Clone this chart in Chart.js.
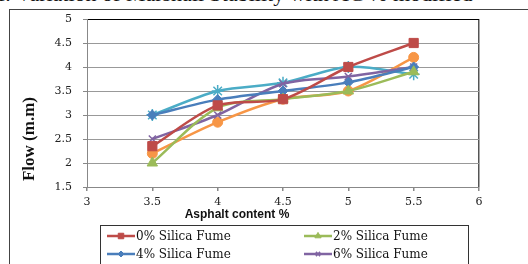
<!DOCTYPE html>
<html>
<head>
<meta charset="utf-8">
<script src="https://cdn.jsdelivr.net/npm/chart.js"></script>
<style>
  body { margin: 0; background: #fff; }
  #wrap { position: relative; width: 528px; height: 264px; overflow: hidden; }
  #fig { position: absolute; left: -2px; top: -17px; white-space: nowrap;
         font: 22px "Liberation Serif", serif; color: #111; line-height: 22px; }
  #frame { position: absolute; left: 9px; top: 9px; width: 540px; height: 300px;
           border-left: 1px solid #444; border-top: 1px solid #444; }
  canvas { position: absolute; left: 0; top: 0; }
</style>
</head>
<body>
<div id="wrap">
  <div id="fig">f. Variation of Marshall Stability with AC % modified</div>
  <div id="frame"></div>
  <canvas id="chart" width="528" height="264"></canvas>
</div>
<script>
const asphalt = [3.5, 4, 4.5, 5, 5.5];
const seriesNames = ["0% Silica Fume", "2% Silica Fume", "4% Silica Fume", "6% Silica Fume", "8% Silica Fume", "10% Silica Fume"];
const sf0 = [2.35, 3.2, 3.33, 4.0, 4.5];
const sf2 = [2.0, 3.15, 3.33, 3.5, 3.9];
const sf4 = [3.0, 3.32, 3.5, 3.68, 4.0];
const sf6 = [2.5, 3.0, 3.65, 3.8, 4.0];
const sf8 = [3.0, 3.5, 3.67, 4.0, 3.85];
const sf10 = [2.2, 2.85, 3.33, 3.5, 4.2];
const xTicks = [3, 3.5, 4, 4.5, 5, 5.5, 6];

const colors = ["#BE4B48", "#9BBB59", "#4A7EBB", "#8064A2", "#4BACC6", "#F79646"];
const markers = ["rect", "triangle", "rectRot", "crossRot", "star", "circle"];
const radii = [6.5, 6, 5, 5, 6, 5];

const values = [sf0, sf2, sf4, sf6, sf8, sf10];
const datasets = values.map((vals, i) => ({
  label: seriesNames[i],
  data: vals.map((v, j) => ({ x: asphalt[j], y: v })),
  borderColor: colors[i],
  backgroundColor: colors[i],
  pointBackgroundColor: colors[i],
  pointBorderColor: colors[i],
  pointBorderWidth: (markers[i] === "crossRot" || markers[i] === "star") ? 1.5 : 1,
  pointStyle: markers[i],
  pointRadius: radii[i],
  borderWidth: 2.5,
  tension: 0.3,
  fill: false
}));

// titles and legend box drawn on top
const extras = {
  id: "extras",
  afterDraw(chart) {
    const ctx = chart.ctx;
    ctx.save();
    ctx.fillStyle = "#111";
    ctx.font = "bold 12px 'Liberation Sans', Arial, sans-serif";
    ctx.textAlign = "center";
    ctx.textBaseline = "middle";
    ctx.fillText("Asphalt content %", 237, 215);

    ctx.save();
    ctx.translate(30, 139);
    ctx.rotate(-Math.PI / 2);
    ctx.font = "bold 17px 'Liberation Serif', 'Times New Roman', serif";
    ctx.fillText("Flow (m.m)", 0, 0);
    ctx.restore();

    // legend
    ctx.strokeStyle = "#333";
    ctx.lineWidth = 1;
    ctx.strokeRect(100.5, 225.5, 368, 80);
    ctx.font = "12px 'DejaVu Serif', serif";
    ctx.textAlign = "left";
    chart.data.datasets.forEach((ds, i) => {
      const col = i % 2, row = Math.floor(i / 2);
      const x0 = col === 0 ? 107 : 304;
      const y = 236 + row * 18;
      ctx.strokeStyle = ds.borderColor;
      ctx.lineWidth = 2.5;
      ctx.beginPath();
      ctx.moveTo(x0, y);
      ctx.lineTo(x0 + 28, y);
      ctx.stroke();
      if (Chart.helpers && Chart.helpers.drawPoint) {
        ctx.fillStyle = ds.pointBackgroundColor;
        ctx.strokeStyle = ds.pointBorderColor;
        ctx.lineWidth = ds.pointBorderWidth;
        Chart.helpers.drawPoint(ctx, { pointStyle: ds.pointStyle, radius: ds.pointRadius * 0.6, rotation: 0, borderWidth: ds.pointBorderWidth }, x0 + 14, y);
      }
      ctx.fillStyle = "#111";
      ctx.fillText(ds.label, x0 + 29, y + 1);
    });
    ctx.restore();
  }
};

new Chart(document.getElementById("chart"), {
  type: "line",
  data: { datasets },
  options: {
    responsive: false,
    animation: false,
    layout: { padding: { left: 0, top: 19, right: 49, bottom: 0 } },
    plugins: { legend: { display: false }, tooltip: { enabled: false } },
    scales: {
      x: {
        type: "linear",
        min: 3, max: 6,
        afterBuildTicks: s => { s.ticks = xTicks.map(v => ({ value: v })); },
        afterFit: s => { s.height = 77; },
        grid: {
          color: c => (c.tick && c.tick.value === 6 ? "#555" : "rgba(0,0,0,0)"),
          tickColor: "#888",
          tickLength: 4,
          lineWidth: 1.5
        },
        border: { color: "#888" },
        ticks: { color: "#222", padding: 5, callback: v => String(v), font: { family: "'DejaVu Serif', serif", size: 11 } }
      },
      y: {
        min: 1.5, max: 5,
        ticks: { stepSize: 0.5, color: "#222", padding: 11, callback: v => String(v), font: { family: "'DejaVu Serif', serif", size: 11 } },
        afterFit: s => { s.width = 87; },
        grid: {
          color: c => (c.tick && c.tick.value === 5 ? "#000" : "#999"),
          tickColor: "#888",
          tickLength: 4
        },
        border: { color: "#888" }
      }
    }
  },
  plugins: [extras]
});
</script>
</body>
</html>
